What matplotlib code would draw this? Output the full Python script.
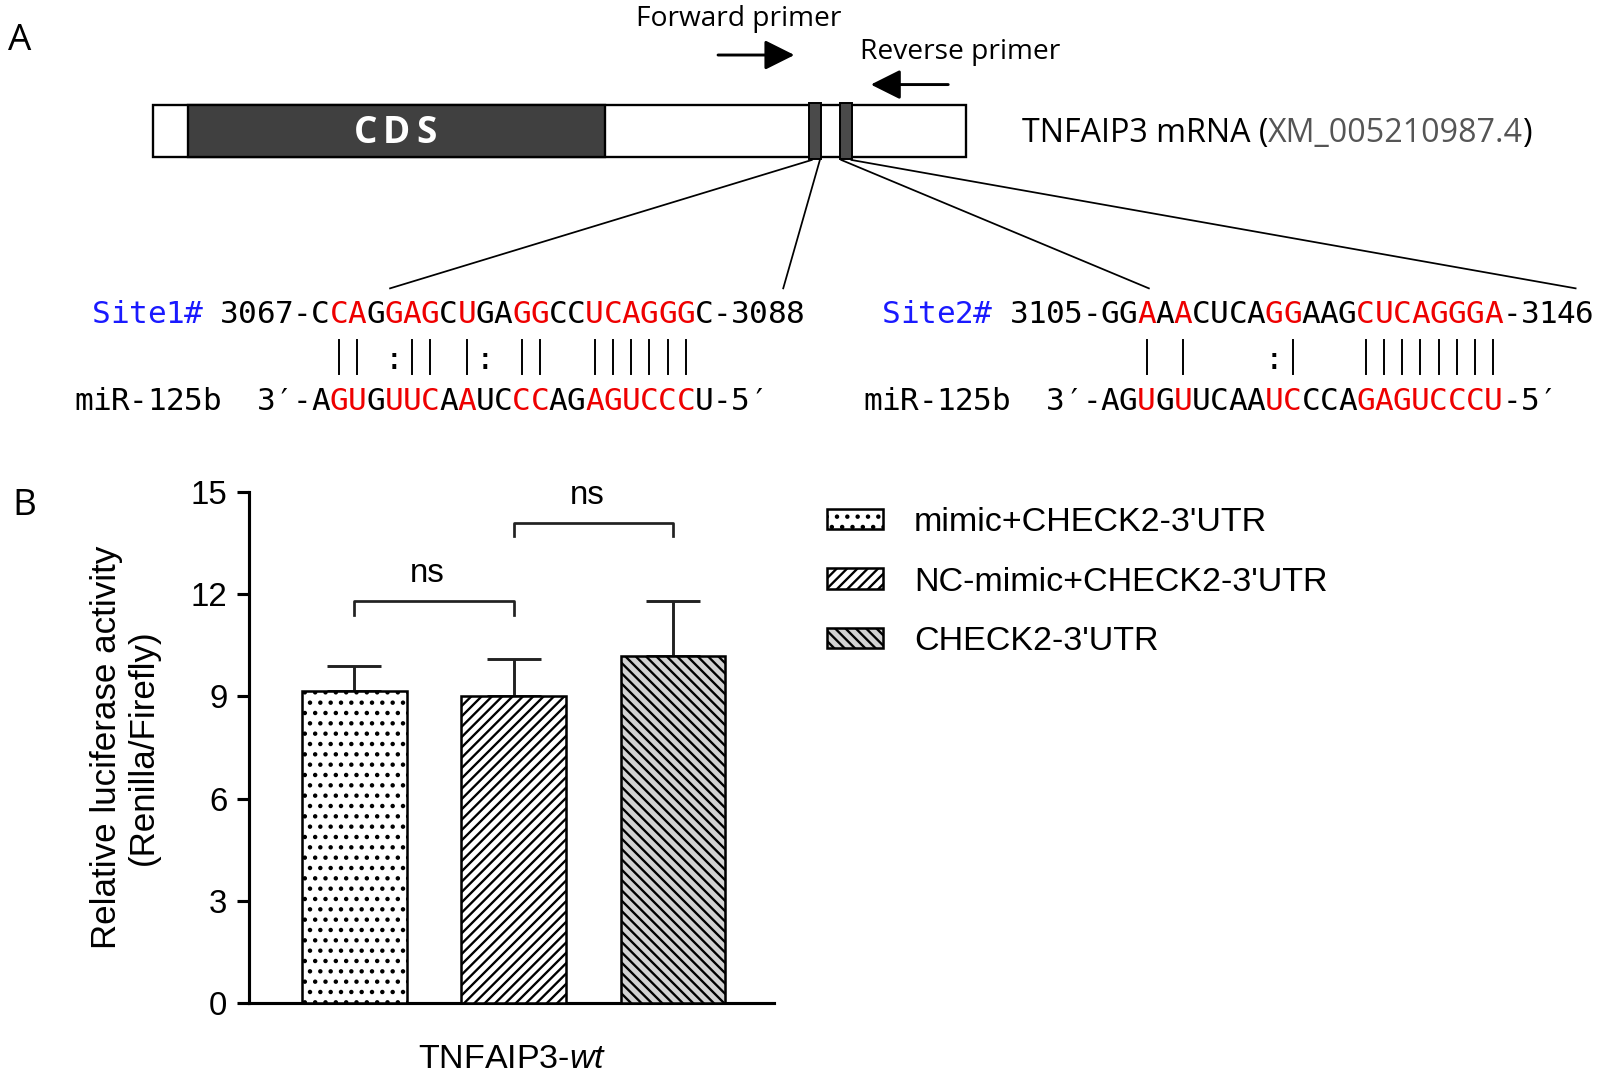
import matplotlib
matplotlib.use('Agg')
import matplotlib.pyplot as plt
import numpy as np

# ---- panel B: luciferase assay ----
groups = ["mimic+CHECK2-3'UTR", "NC-mimic+CHECK2-3'UTR", "CHECK2-3'UTR"]
means = [9.15, 9.0, 10.2]
errs = [0.75, 1.1, 1.6]
yticks = [0, 3, 6, 9, 12, 15]
comparisons = [(0, 1), (1, 2)]
comp_labels = ['ns', 'ns']
comp_heights = [11.8, 14.1]

# ---- panel A: binding sites ----
site_names = ['Site1#', 'Site2#']
site_starts = ['3067', '3105']
site_ends = ['3088', '3146']
site_seqs = ['CCAGGAGCUGAGGCCUCAGGGC', 'GGAAACUCAGGAAGCUCAGGGA']
site_red = ['0110111010011001111110', '0010100001100011111111']
pairings = [' || :|| |: ||  |||||| ', '  | |    :|   ||||||||']
mir_name = 'miR-125b'
mir_seq = 'AGUGUUCAAUCCCAGAGUCCCU'
mir_red = ['0110111010011001111110', '0010100001100011111111']
mrna_label = 'TNFAIP3 mRNA ('
accession = 'XM_005210987.4'

# dpi picked so the hatch spacing matches the original; k rescales point sizes
DPI = 124
k = 140 / DPI
plt.rcParams['hatch.linewidth'] = 1.2 * k
plt.rcParams['mathtext.fontset'] = 'custom'
plt.rcParams['mathtext.rm'] = 'Liberation Sans'
plt.rcParams['mathtext.it'] = 'Liberation Sans:italic'
sans = 'Liberation Sans'
mono = ['DejaVu Sans Mono', 'DejaVu Sans']
label_font = 'Open Sans'

fig = plt.figure(figsize=(1597 / DPI, 1078 / DPI), dpi=DPI)

# bar chart
ax = fig.add_axes([0.1562, 0.0696, 0.3284, 0.474])
x = np.arange(len(groups))
hatches = ['..', '////', '\\\\\\\\']
colors = ['white', 'white', '#d2d2d2']
handles = []
for i in range(len(groups)):
    b = ax.bar(x[i], means[i], width=0.658, color=colors[i], edgecolor='black',
               linewidth=1.3 * k, hatch=hatches[i], label=groups[i], zorder=3)
    handles.append(b)
ax.errorbar(x, means, yerr=[np.zeros(len(x)), errs], fmt='none', ecolor='#222222',
            elinewidth=1.5 * k, capsize=14 * k, capthick=1.5 * k, zorder=2)

for (a, b), lab, h in zip(comparisons, comp_labels, comp_heights):
    ax.plot([x[a], x[a], x[b], x[b]], [h - 0.4, h, h, h - 0.4], color='#222222',
            lw=1.4 * k, clip_on=False)
    ax.text((x[a] + x[b]) / 2 - 0.04, h + 0.8, lab, ha='center', va='center',
            fontsize=17 * k, family=sans)

ax.set_xlim(-0.658, 2.633)
ax.set_ylim(0, 15)
ax.set_yticks(yticks)
ax.set_xticks([])
ax.spines['top'].set_visible(False)
ax.spines['right'].set_visible(False)
for s in ['left', 'bottom']:
    ax.spines[s].set_linewidth(1.6 * k)
ax.tick_params(axis='y', direction='out', length=6.3 * k, width=1.6 * k,
               pad=5 * k, labelsize=17 * k)
for lab in ax.get_yticklabels():
    lab.set_family(sans)
ax.set_ylabel('Relative luciferase activity\n(Renilla/Firefly)', fontsize=18 * k,
              family=sans, linespacing=1.15)
ax.yaxis.set_label_coords(-0.17, 0.5)
ax.set_xlabel('TNFAIP3-$\\it{wt}$', fontsize=17.5 * k, family=sans,
              labelpad=21 * k)

fig.legend(handles=handles, loc='upper left',
           bbox_to_anchor=(827 / 1597, 1 - 507 / 1078), frameon=False,
           prop={'family': sans, 'size': 17.5 * k}, handlelength=1.65,
           handleheight=0.55, handletextpad=0.9, labelspacing=0.84,
           borderpad=0, borderaxespad=0)

# overlay for panel A (coordinates in reference pixels)
ov = fig.add_axes([0, 0, 1, 1])
ov.set_xlim(0, 1568)
ov.set_ylim(1058, 0)
ov.axis('off')

ov.text(8, 40, 'A', fontsize=19 * k, family=label_font, va='center', ha='left')
ov.text(12, 497, 'B', fontsize=19 * k, family=label_font, va='center', ha='left')

# mRNA bar
ov.add_patch(plt.Rectangle((150, 103), 798, 51, facecolor='white',
                           edgecolor='black', lw=1.2 * k))
ov.add_patch(plt.Rectangle((185, 103), 409, 51, facecolor='#404040',
                           edgecolor='black', lw=1.2 * k))
for bx in [794, 825]:
    ov.add_patch(plt.Rectangle((bx, 101), 12, 55, facecolor='#4a4a4a',
                               edgecolor='black', lw=1.0 * k))
for cx, ch in zip([359, 389, 419], 'CDS'):
    ov.text(cx, 131, ch, color='white', fontsize=19 * k, fontweight='bold',
            family=label_font, ha='center', va='center')

t1 = ov.text(1003, 131, mrna_label, fontsize=16.6 * k, family=label_font,
             ha='left', va='center')
t2 = ov.annotate(accession, xy=(1, 0), xycoords=t1, fontsize=16.6 * k,
                 family=label_font, ha='left', va='bottom', color='#555555')
ov.annotate(')', xy=(1, 0), xycoords=t2, fontsize=16.6 * k, family=label_font,
            ha='left', va='bottom')

# primers
ov.text(725, 19, 'Forward primer', fontsize=14.5 * k, family=label_font,
        ha='center', va='center')
ov.text(943, 51, 'Reverse primer', fontsize=14.5 * k, family=label_font,
        ha='center', va='center')
arrow = dict(arrowstyle='-|>,head_length=1.0,head_width=0.5', lw=1.5 * k,
             color='black', shrinkA=0, shrinkB=0, mutation_scale=13 * k)
ov.annotate('', xy=(780, 54), xytext=(705, 54), arrowprops=arrow)
ov.annotate('', xy=(855, 83), xytext=(931, 83), arrowprops=arrow)

# connectors from sites to sequences
for (x0, y0), (x1, y1) in [((797, 157), (383, 283)), ((805, 157), (769, 283)),
                           ((826, 157), (1128, 283)), ((836, 157), (1547, 283))]:
    ov.plot([x0, x1], [y0, y1], color='black', lw=0.9 * k)

# sequence alignments on a monospace grid
cw = 17.92
for j, base in enumerate([73, 848]):
    col = lambda c: base + (c + 0.5) * cw
    top = ' ' + site_names[j] + ' ' + site_starts[j] + '-' + site_seqs[j] + '-' + site_ends[j]
    for c, ch in enumerate(top):
        if ch == ' ':
            continue
        color = 'black'
        if 1 <= c <= 6:
            color = '#1a1aff'
        elif 13 <= c < 13 + len(site_seqs[j]) and site_red[j][c - 13] == '1':
            color = '#ee0000'
        ov.text(col(c), 309, ch, color=color, fontsize=16 * k, family=mono,
                ha='center', va='center')
    bottom = mir_name + '  3\u2032-' + mir_seq + '-5\u2032'
    for c, ch in enumerate(bottom):
        if ch == ' ':
            continue
        color = 'black'
        if 13 <= c < 13 + len(mir_seq) and mir_red[j][c - 13] == '1':
            color = '#ee0000'
        ov.text(col(c), 394, ch, color=color, fontsize=16 * k, family=mono,
                ha='center', va='center')
    for i, p in enumerate(pairings[j]):
        if p == '|':
            ov.plot([col(13 + i)] * 2, [334, 367], color='black', lw=1.0 * k)
        elif p == ':':
            ov.text(col(13 + i), 354, ':', fontsize=16 * k, family=mono,
                    ha='center', va='center')

fig.savefig('out.png', dpi=DPI)
